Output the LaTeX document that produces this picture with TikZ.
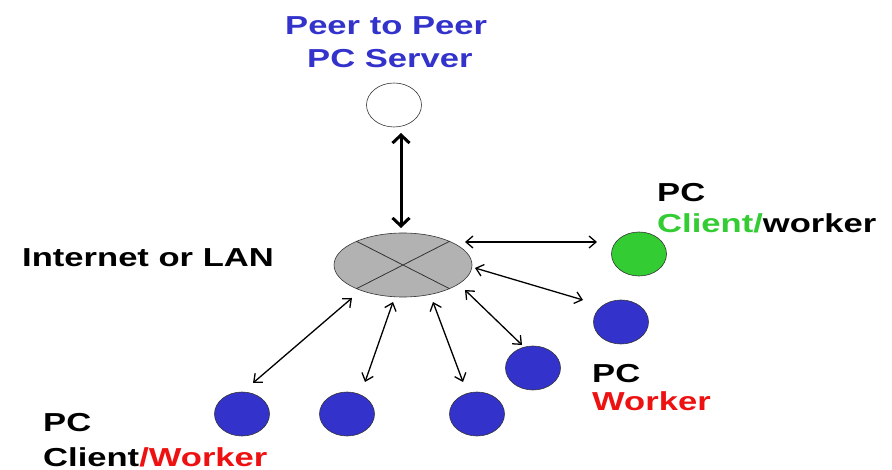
\documentclass[tikz,border=0pt]{standalone}
\usepackage{fontspec}
\usetikzlibrary{shapes.geometric,arrows.meta}
\newfontfamily\lblfont[FakeStretch=1.33]{Liberation Sans Bold}
\definecolor{pcblue}{RGB}{51,51,204}
\definecolor{pcgreen}{RGB}{51,204,51}
\definecolor{pcred}{RGB}{238,17,17}
\definecolor{langray}{RGB}{178,178,178}
\begin{document}
\begin{tikzpicture}[x=1pt,y=-1pt,
  pc/.style={ellipse, draw=black!80, line width=0.6pt, inner sep=0pt,
             minimum width=55pt, minimum height=44pt},
  lbl/.style={anchor=base west, inner sep=0pt, font=\lblfont\fontsize{26}{30}\selectfont},
  link/.style={line width=1.3pt, {Straight Barb[length=7pt,width=12pt]}-{Straight Barb[length=7pt,width=12pt]}},
  biglink/.style={line width=3pt, {Straight Barb[length=8pt,width=17pt]}-{Straight Barb[length=8pt,width=17pt]}}]
\useasboundingbox (0,0) rectangle (892,470);

% machines
\node[pc, fill=white] (srv) at (394,105) {};
\node[ellipse, draw=black!80, line width=0.6pt, fill=langray, inner sep=0pt,
      minimum width=138pt, minimum height=64pt] (lan) at (403,265) {};
\draw[black!80, line width=0.8pt] (lan.153) -- (lan.333) (lan.27) -- (lan.207);
\node[pc, fill=pcgreen] (cw) at (639,254) {};
\node[pc, fill=pcblue] (wr) at (621,322) {};
\node[pc, fill=pcblue] (b4) at (533,368) {};
\node[pc, fill=pcblue] (b3) at (477,414) {};
\node[pc, fill=pcblue] (b2) at (347,414) {};
\node[pc, fill=pcblue] (b1) at (242,414) {};

% links
\draw[biglink] ([shift={(7,28)}]srv.center) -- ([shift={(-2,-37)}]lan.center);
\draw[link] ([shift={(62,-23)}]lan.center) -- ([shift={(-42,-12)}]cw.center);
\draw[link] ([shift={(72,3)}]lan.center) -- ([shift={(-38,-22)}]wr.center);
\draw[link] ([shift={(62,25)}]lan.center) -- ([shift={(-11,-23)}]b4.center);
\draw[link] ([shift={(30,37)}]lan.center) -- ([shift={(-14,-32)}]b3.center);
\draw[link] ([shift={(-10,37)}]lan.center) -- ([shift={(18,-32)}]b2.center);
\draw[link] ([shift={(-51,33)}]lan.center) -- ([shift={(11,-31)}]b1.center);

% labels
\node[lbl, text=pcblue] (t1) at (285,35) {Peer to Peer};
\node[lbl, text=pcblue] (t2) at (307,68) {PC Server};
\node[lbl] (t3) at (22,267) {Internet or LAN};
\node[lbl] (t4) at (657,202) {PC};
\node[lbl] (t5) at (657,233) {\textcolor{pcgreen}{Client/}worker};
\node[lbl] (t6) at (592,383) {PC};
\node[lbl, text=pcred] (t7) at (592,410) {Worker};
\node[lbl] (t8) at (43,431) {PC};
\node[lbl] (t9) at (43,466) {Client\textcolor{pcred}{/Worker}};
\end{tikzpicture}
\end{document}
